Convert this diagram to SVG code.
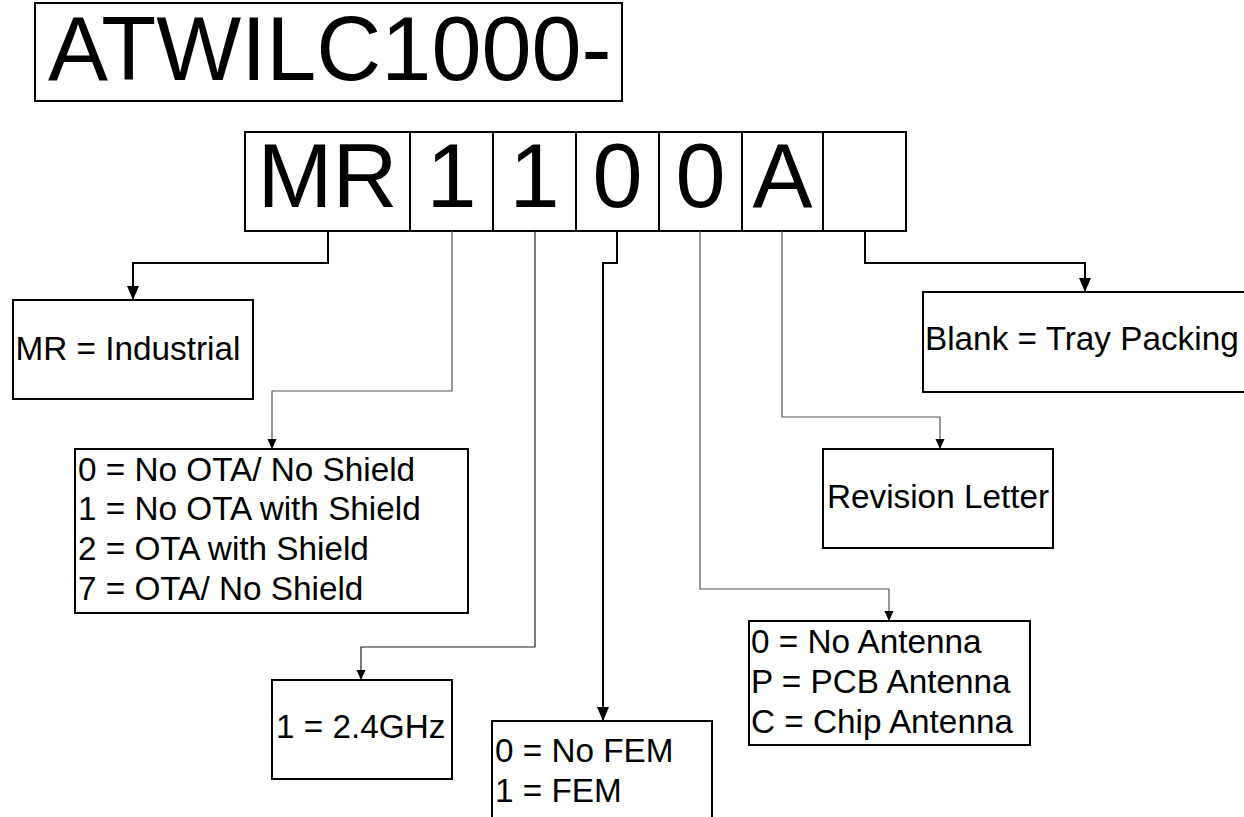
<svg xmlns="http://www.w3.org/2000/svg" width="1244" height="817" viewBox="0 0 1244 817">
<style>
.box{fill:#fff;stroke:#000;stroke-width:2}
.t{font-family:"Liberation Sans",Arial,sans-serif;fill:#000}
.big{font-size:90px}
.sm{font-size:33.3px}
.thick{fill:none;stroke:#000;stroke-width:2}
.thin{fill:none;stroke:#555;stroke-width:1.2}
.thinb{fill:none;stroke:#222;stroke-width:1.2}
</style>
<defs>
<marker id="ah" markerUnits="userSpaceOnUse" markerWidth="14" markerHeight="14" viewBox="0 0 14 12" refX="14" refY="6" orient="auto">
<path d="M0,0 L14,6 L0,12 Z" fill="#000"/>
</marker>
<marker id="as" markerUnits="userSpaceOnUse" markerWidth="10" markerHeight="10" viewBox="0 0 10 9" refX="10" refY="4.5" orient="auto">
<path d="M0,0 L10,4.5 L0,9 Z" fill="#000"/>
</marker>
</defs>
<rect width="1244" height="817" fill="#fff"/>
<g id="title">
<rect class="box" x="35" y="3" width="587" height="98"/>
<text class="t big" x="48" y="80">ATWILC1000-</text>
</g>
<g id="partnumber">
<rect class="box" x="245" y="132" width="661" height="99"/>
<line x1="410" y1="132" x2="410" y2="231" stroke="#000" stroke-width="2"/>
<line x1="493" y1="132" x2="493" y2="231" stroke="#000" stroke-width="2"/>
<line x1="576" y1="132" x2="576" y2="231" stroke="#000" stroke-width="2"/>
<line x1="659" y1="132" x2="659" y2="231" stroke="#000" stroke-width="2"/>
<line x1="742" y1="132" x2="742" y2="231" stroke="#000" stroke-width="2"/>
<line x1="823" y1="132" x2="823" y2="231" stroke="#000" stroke-width="2"/>
<g class="t big" text-anchor="middle">
<text x="327.5" y="207">MR</text>
<text x="451.5" y="207">1</text>
<text x="534.5" y="207">1</text>
<text x="617.5" y="207">0</text>
<text x="700.5" y="207">0</text>
<text x="782.5" y="207">A</text>
</g>
</g>
<g id="connectors">
<path class="thick" d="M328,231 V263 H133 V300" marker-end="url(#ah)"/>
<path class="thin" d="M452,231 V391 H272 V449" marker-end="url(#as)"/>
<path class="thinb" d="M535,231 V647 H361 V680" marker-end="url(#as)"/>
<path class="thick" d="M617,231 V263 H603 V721" marker-end="url(#ah)"/>
<path class="thin" d="M700,231 V589 H889 V621" marker-end="url(#as)"/>
<path class="thin" d="M782,231 V417 H940 V449" marker-end="url(#as)"/>
<path class="thick" d="M865,231 V263 H1085 V292" marker-end="url(#ah)"/>
</g>
<g id="industrial">
<rect class="box" x="13" y="300" width="240" height="99"/>
<text class="t sm" x="15.5" y="360">MR = Industrial</text>
</g>
<g id="ota">
<rect class="box" x="75" y="449" width="393" height="164"/>
<text class="t sm" x="78" y="481">0 = No OTA/ No Shield</text>
<text class="t sm" x="78" y="520">1 = No OTA with Shield</text>
<text class="t sm" x="78" y="560">2 = OTA with Shield</text>
<text class="t sm" x="78" y="600">7 = OTA/ No Shield</text>
</g>
<g id="band">
<rect class="box" x="272" y="680" width="180" height="99"/>
<text class="t sm" x="276" y="738">1 = 2.4GHz</text>
</g>
<g id="fem">
<rect class="box" x="492" y="721" width="220" height="110"/>
<text class="t sm" x="495" y="762">0 = No FEM</text>
<text class="t sm" x="495" y="802">1 = FEM</text>
</g>
<g id="antenna">
<rect class="box" x="749" y="621" width="281" height="124"/>
<text class="t sm" x="751" y="653">0 = No Antenna</text>
<text class="t sm" x="751" y="693">P = PCB Antenna</text>
<text class="t sm" x="751" y="733">C = Chip Antenna</text>
</g>
<g id="revision">
<rect class="box" x="823" y="449" width="230" height="99"/>
<text class="t sm" x="938" y="508" text-anchor="middle">Revision Letter</text>
</g>
<g id="packing">
<rect class="box" x="923" y="292" width="330" height="100"/>
<text class="t sm" x="925" y="350">Blank = Tray Packing</text>
</g>
</svg>
